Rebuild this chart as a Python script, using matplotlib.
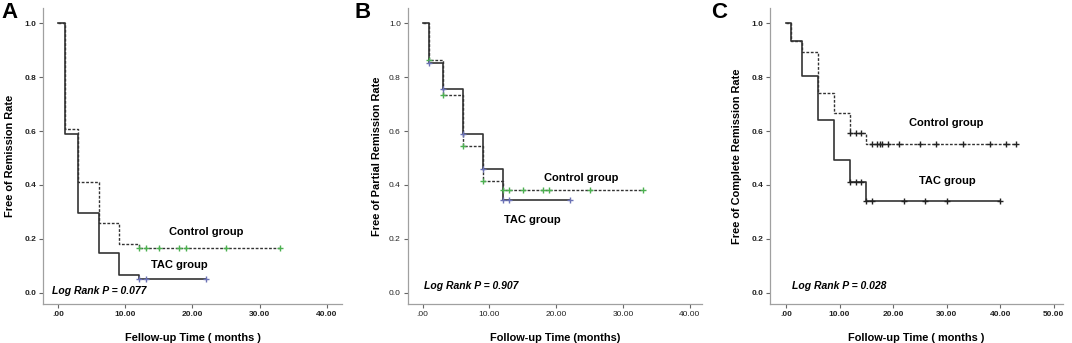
import numpy as np
import matplotlib
matplotlib.use("Agg")
import matplotlib.pyplot as plt

plt.rcParams["font.family"] = ["Liberation Sans", "DejaVu Sans"]

# Kaplan-Meier curves (time in months, survival fraction)

# panel A - free of remission
a_tac_t = [0, 1, 3, 6, 9, 12, 22]
a_tac_s = [1.0, 0.59, 0.295, 0.147, 0.066, 0.05, 0.05]
a_tac_cens = [12, 13, 22]
a_ctl_t = [0, 1, 3, 6, 9, 12, 33]
a_ctl_s = [1.0, 0.607, 0.41, 0.257, 0.18, 0.167, 0.167]
a_ctl_cens = [12, 13, 15, 18, 19, 25, 33]

# panel B - free of partial remission
b_tac_t = [0, 1, 3, 6, 9, 12, 22]
b_tac_s = [1.0, 0.853, 0.756, 0.589, 0.458, 0.343, 0.343]
b_tac_cens = [1, 3, 6, 9, 12, 13, 22]
b_ctl_t = [0, 1, 3, 6, 9, 12, 33]
b_ctl_s = [1.0, 0.865, 0.733, 0.545, 0.416, 0.381, 0.381]
b_ctl_cens = [1, 3, 6, 9, 12, 13, 15, 18, 19, 25, 33]

# panel C - free of complete remission
c_tac_t = [0, 1, 3, 6, 9, 12, 15, 40]
c_tac_s = [1.0, 0.934, 0.803, 0.64, 0.492, 0.41, 0.342, 0.342]
c_tac_cens = [12, 13, 14, 15, 16, 22, 26, 30, 40]
c_ctl_t = [0, 1, 3, 6, 9, 12, 15, 43]
c_ctl_s = [1.0, 0.934, 0.895, 0.742, 0.666, 0.592, 0.553, 0.553]
c_ctl_cens = [12, 13, 14, 16, 17, 17.5, 18, 19, 21, 25, 28, 33, 38, 41, 43]

DARK = "#333333"
SPINE = "#a0a0a0"


def km_at(tc, times, surv):
    idx = np.searchsorted(times, tc, side="right") - 1
    return np.asarray(surv)[idx]


def fmt_x(v):
    return ".00" if v == 0 else "%.2f" % v


def panel(ax, tac, ctl, xmax, xlim, ylabel, xlabel, ylab_x, ptext, ppos,
          ctl_pos, tac_pos, tac_col, ctl_col, boldticks):
    tt, ts, tcens = tac
    ct, cs, ccens = ctl
    ax.step(ct, cs, where="post", color=DARK, lw=1.0, ls=(0, (2, 1.2)))
    ax.step(tt, ts, where="post", color=DARK, lw=1.2)
    ax.plot(ccens, km_at(ccens, ct, cs), ls="none", marker="+",
            ms=5, mew=1.0, color=ctl_col)
    ax.plot(tcens, km_at(tcens, tt, ts), ls="none", marker="+",
            ms=5, mew=1.0, color=tac_col)

    ax.set_xlim(*xlim)
    ax.set_ylim(-0.042, 1.057)
    xt = np.arange(0, xmax + 1, 10)
    ax.set_xticks(xt)
    ax.set_xticklabels([fmt_x(v) for v in xt])
    yt = np.arange(0, 1.01, 0.2)
    ax.set_yticks(yt)
    ax.set_yticklabels(["%.1f" % v for v in yt])
    fw = "bold" if boldticks else "normal"
    for lab in ax.get_xticklabels() + ax.get_yticklabels():
        lab.set_fontsize(6)
        lab.set_fontweight(fw)
        lab.set_color("#222222")
    ax.tick_params(axis="both", direction="out", length=3, width=0.8,
                   color="#666666", pad=2)
    for s in ["top", "right"]:
        ax.spines[s].set_visible(False)
    for s in ["left", "bottom"]:
        ax.spines[s].set_color(SPINE)
        ax.spines[s].set_linewidth(0.9)

    ax.set_ylabel(ylabel, fontsize=7.9, fontweight="bold")
    ax.set_xlabel(xlabel, fontsize=7.9, fontweight="bold")
    ax.yaxis.set_label_coords(ylab_x, 0.5)
    ax.xaxis.set_label_coords(0.5, -0.098)

    ax.text(ctl_pos[0], ctl_pos[1], "Control group", fontsize=8,
            fontweight="bold", ha="center", va="center")
    ax.text(tac_pos[0], tac_pos[1], "TAC group", fontsize=8,
            fontweight="bold", ha="center", va="center")
    ax.text(ppos[0], ppos[1], ptext, fontsize=7.5, fontweight="bold",
            style="italic", ha="left", va="center")
    return ax


fig = plt.figure(figsize=(10.72, 3.43), dpi=100)
axA = fig.add_axes([0.0401, 0.1137, 0.279, 0.863])
axB = fig.add_axes([0.3803, 0.1137, 0.2743, 0.863])
axC = fig.add_axes([0.7183, 0.1137, 0.2733, 0.863])

panel(axA, (a_tac_t, a_tac_s, a_tac_cens), (a_ctl_t, a_ctl_s, a_ctl_cens),
      40, (-2.28, 42.3), "Free of Remission Rate", "Fellow-up Time ( months )", -0.094,
      "Log Rank P = 0.077", (-0.98, 0.006), (22.1, 0.225), (18.0, 0.103),
      "#6b72b5", "#4cb050", True)
panel(axB, (b_tac_t, b_tac_s, b_tac_cens), (b_ctl_t, b_ctl_s, b_ctl_cens),
      40, (-2.24, 41.8), "Free of Partial Remission Rate", "Follow-up Time (months)", -0.088,
      "Log Rank P = 0.907", (0.19, 0.025), (23.7, 0.427), (16.4, 0.27),
      "#6b72b5", "#4cb050", False)
panel(axC, (c_tac_t, c_tac_s, c_tac_cens), (c_ctl_t, c_ctl_s, c_ctl_cens),
      50, (-2.98, 51.7), "Free of Complete Remission Rate", "Follow-up Time ( months )", -0.097,
      "Log Rank P = 0.028", (1.06, 0.025), (29.85, 0.629), (30.2, 0.416),
      "#222222", "#222222", True)

# panel letters
for letter, xp in [("A", 9), ("B", 363), ("C", 719)]:
    fig.text(xp / 1072, 1 - 13 / 343, letter, fontsize=16, fontweight="bold",
             ha="center", va="center")

fig.savefig("out.png", dpi=100)
